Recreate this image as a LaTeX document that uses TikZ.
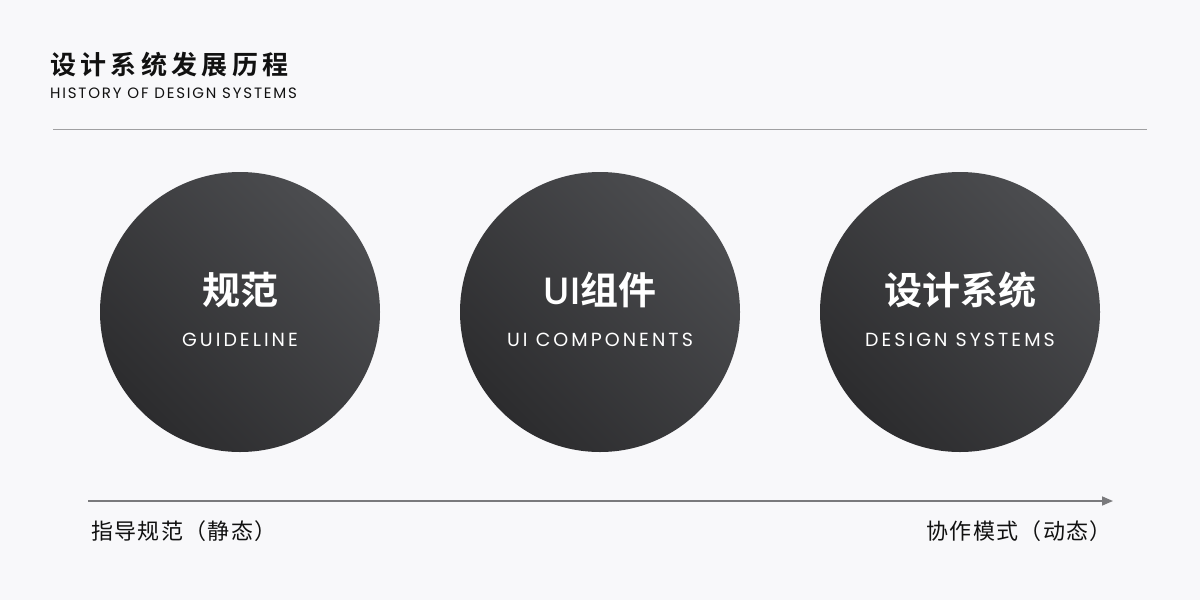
\documentclass[tikz,border=0pt]{standalone}
\usepackage{fontspec}
\setmainfont{Noto Sans CJK SC}
\newfontfamily\cjk[LetterSpace=6]{Noto Sans CJK SC}
\newfontfamily\cjkb{Noto Sans CJK SC Bold}
\newfontfamily\lat[LetterSpace=12]{Poppins}
\newfontfamily\latm[LetterSpace=16]{Poppins}
\newfontfamily\latb[LetterSpace=4]{Poppins Medium}
\definecolor{bg}{HTML}{F8F8FA}
\definecolor{circdark}{HTML}{2C2C2E}
\definecolor{circlight}{HTML}{4C4D50}
\definecolor{rule}{HTML}{A0A0A2}
\definecolor{arrowc}{HTML}{7A7A7C}
\definecolor{ink}{HTML}{111111}
\usetikzlibrary{arrows.meta}
\begin{document}
\begin{tikzpicture}[x=1pt,y=-1pt,
  bubble/.style={circle,minimum size=280pt,inner sep=0pt,left color=circdark,right color=circlight,shading angle=135},
  cnlabel/.style={text=white,font=\cjkb\fontsize{38}{38}\selectfont,inner sep=0pt,anchor=center},
  enlabel/.style={text=white,font=\latm\fontsize{19}{19}\selectfont,inner sep=0pt,anchor=center},
  axislabel/.style={text=ink,font=\cjk\fontsize{22}{22}\selectfont,inner sep=0pt}]
\fill[bg] (0,0) rectangle (1200,600);
\useasboundingbox (0,0) rectangle (1200,600);
\node[anchor=west,inner sep=0pt,text=ink,font=\cjkb\fontsize{26}{26}\selectfont] (title) at (50,65) {设\,计\,系\,统\,发\,展\,历\,程};
\node[anchor=west,inner sep=0pt,text=ink,font=\lat\fontsize{15}{15}\selectfont] (subtitle) at (50,93) {HISTORY OF DESIGN SYSTEMS};
\coordinate (ruleL) at (53,129);
\coordinate (ruleR) at (1147,129);
\draw[rule,line width=1pt] (ruleL) -- (ruleR);

\node[bubble] (c1) at (240,312) {};
\node[bubble] (c2) at (600,312) {};
\node[bubble] (c3) at (960,312) {};
\node[cnlabel] (c1cn) at (240,290) {规范};
\node[enlabel] (c1en) at (240,340) {GUIDELINE};
\node[cnlabel] (c2cn) at (600,290) {{\latb UI}组件};
\node[enlabel] (c2en) at (600,340) {UI COMPONENTS};
\node[cnlabel] (c3cn) at (960,290) {设计系统};
\node[enlabel] (c3en) at (960,340) {DESIGN SYSTEMS};

\coordinate (axL) at (88,501);
\coordinate (axR) at (1113,501);
\draw[arrowc,line width=1.6pt,-{Triangle[length=11pt,width=9pt]}] (axL) -- (axR);
\node[axislabel,anchor=west] (lstat) at (91,531) {指导规范（静态）};
\node[axislabel,anchor=east] (ldyn) at (1112,531) {协作模式（动态）};
\end{tikzpicture}
\end{document}
